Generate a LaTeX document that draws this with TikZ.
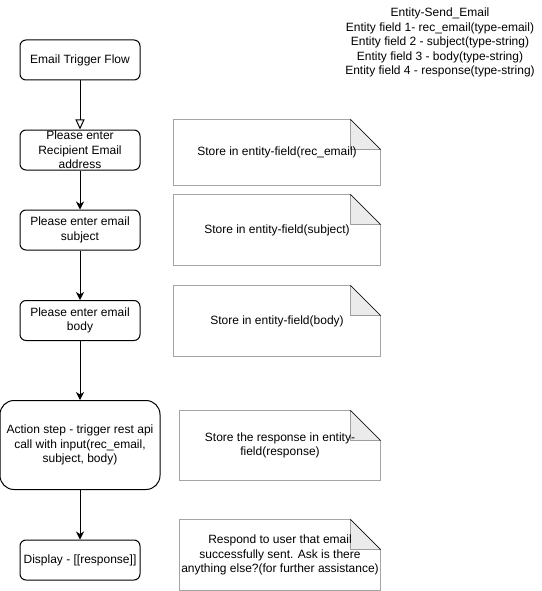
\documentclass[tikz,border=0pt]{standalone}
\usepackage{fontspec}
\setmainfont{Liberation Sans}
\usetikzlibrary{arrows.meta,backgrounds}
\begin{document}
\begin{tikzpicture}[x=1pt,y=-1pt,line width=1pt,
  every node/.style={font=\fontsize{12}{14.5}\selectfont,align=center,inner sep=0pt},
  box/.style={rectangle,draw,rounded corners=6pt,minimum width=120pt,minimum height=40pt},
  note/.style={rectangle,minimum width=206pt,minimum height=70pt},
  fold/.style={fill=black!8},
  flow/.style={-{Stealth[length=8pt,width=8pt,inset=2.5pt]}},
  openflow/.style={-{Triangle[open,length=10pt,width=9pt]}}]
\useasboundingbox (0,0) rectangle (541,591);
\node[box] (start) at (80,60) {Email Trigger Flow};
\node[box] (rcpt) at (80,150) {Please enter\\Recipient Email\\address};
\node[box] (subj) at (80,230) {Please enter email\\subject};
\node[box] (body) at (80,320.5) {Please enter email\\body};
\node[box,minimum width=160pt,minimum height=89pt,rounded corners=14pt] (act) at (80,445) {Action step - trigger rest api\\call with input(rec\_email,\\subject, body)};
\node[box] (disp) at (80,560) {Display - [[response]]};

\node[note,minimum height=65pt] (rcptNote) at (277,152.5) {Store in entity-field(rec\_email)};
\node[note] (subjNote) at (277,230) {Store in entity-field(subject)};
\node[note] (bodyNote) at (277,321) {Store in entity-field(body)};
\node[note,minimum width=200pt,minimum height=69pt] (actNote) at (280,445.5) {Store the response in entity-\\field(response)};
\node[note,minimum width=200pt] (dispNote) at (280,555) {Respond to user that email\\successfully sent. Ask is there\\anything else?(for further assistance)};

\node (entity) at (440,42.5) {Entity-Send\_Email\\Entity field 1- rec\_email(type-email)\\Entity field 2 - subject(type-string)\\Entity field 3 - body(type-string)\\Entity field 4 - response(type-string)};

\path[openflow] (start) edge (rcpt);
\path[flow] (rcpt) edge (subj) (subj) edge (body) (body) edge (act) (act) edge (disp);

\begin{scope}[on background layer]
\foreach \n in {rcptNote,subjNote,bodyNote,actNote,dispNote}{
  \draw (\n.north west) -- ([xshift=-30pt]\n.north east) -- ([yshift=-30pt]\n.north east) -- (\n.south east) -- (\n.south west) -- cycle;
  \draw[fold] ([xshift=-30pt]\n.north east) -- ([xshift=-30pt,yshift=-30pt]\n.north east) -- ([yshift=-30pt]\n.north east) -- cycle;
}
\end{scope}
\end{tikzpicture}
\end{document}
